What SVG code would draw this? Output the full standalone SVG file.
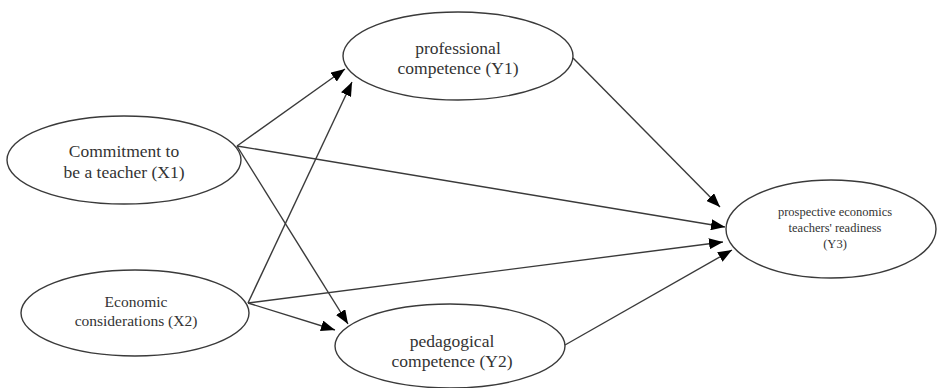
<svg xmlns="http://www.w3.org/2000/svg" width="938" height="388" viewBox="0 0 938 388">
  <style>
    .node ellipse { fill: #ffffff; stroke: #3a3a3a; stroke-width: 1.4; }
    .lbl { font-family: "Liberation Serif", "Times New Roman", Times, "DejaVu Serif", serif; fill: #333333; text-anchor: middle; }
    .edge { stroke: #3a3a3a; stroke-width: 1.4; fill: none; marker-end: url(#arr); }
  </style>
  <defs>
    <marker id="arr" markerUnits="userSpaceOnUse" markerWidth="15" markerHeight="11" refX="14" refY="5.5" orient="auto">
      <path d="M0,0 L14,5.5 L0,11 z" fill="#000000"/>
    </marker>
  </defs>
  <rect width="938" height="388" fill="#ffffff"/>
  <g id="connectors">
    <line class="edge" x1="237" y1="146" x2="345" y2="69"/>
    <line class="edge" x1="248" y1="303" x2="352" y2="82"/>
    <line class="edge" x1="237" y1="146" x2="348" y2="324"/>
    <line class="edge" x1="248" y1="303" x2="335" y2="330"/>
    <line class="edge" x1="237" y1="146" x2="725" y2="227"/>
    <line class="edge" x1="248" y1="303" x2="723" y2="242"/>
    <line class="edge" x1="573" y1="58" x2="720" y2="207"/>
    <line class="edge" x1="565" y1="345" x2="732" y2="250"/>
  </g>
  <g id="X1" class="node">
    <ellipse cx="124" cy="160" rx="117" ry="44"/>
    <text class="lbl" font-size="17.5" x="124" y="157">Commitment to</text>
    <text class="lbl" font-size="17.5" x="124" y="178">be a teacher (X1)</text>
  </g>
  <g id="X2" class="node">
    <ellipse cx="135" cy="313" rx="114" ry="43"/>
    <text class="lbl" font-size="15.5" x="136" y="307">Economic</text>
    <text class="lbl" font-size="15.5" x="136" y="326">considerations (X2)</text>
  </g>
  <g id="Y1" class="node">
    <ellipse cx="458" cy="56" rx="115" ry="44"/>
    <text class="lbl" font-size="17.5" x="458" y="54">professional</text>
    <text class="lbl" font-size="17.5" x="458" y="74">competence (Y1)</text>
  </g>
  <g id="Y2" class="node">
    <ellipse cx="450" cy="346" rx="115" ry="42"/>
    <text class="lbl" font-size="17.5" x="452" y="347">pedagogical</text>
    <text class="lbl" font-size="17.5" x="452" y="367">competence (Y2)</text>
  </g>
  <g id="Y3" class="node">
    <ellipse cx="831" cy="229" rx="105" ry="49"/>
    <text class="lbl" font-size="12.5" x="835" y="216">prospective economics</text>
    <text class="lbl" font-size="12.5" x="835" y="232">teachers' readiness</text>
    <text class="lbl" font-size="12.5" x="835" y="248">(Y3)</text>
  </g>
</svg>
